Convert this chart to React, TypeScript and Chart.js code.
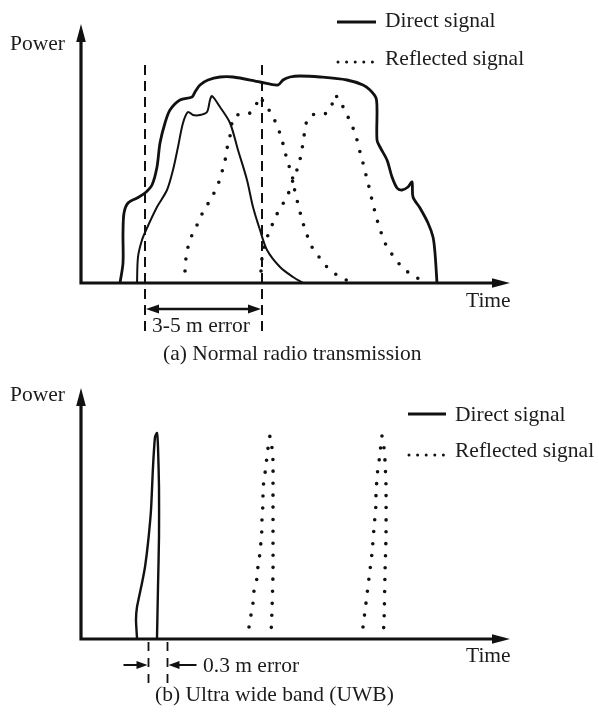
import React, { useEffect, useRef } from "react";
import { Chart, registerables } from "chart.js";

Chart.register(...registerables);

const FONT = '21.5px "Liberation Serif", "DejaVu Serif", serif';
const INK = "#111111";
const TEXT = "#1c1c1c";

type Pt = [number, number];

// ---------- (a) Normal radio transmission : [time, power] ----------
const envelopeA: Pt[] = [
  [39, 0], [42, 20], [42, 50], [43, 70], [47, 80], [56, 85], [64, 90], [71, 98],
  [76, 116], [79, 140], [84, 160], [89, 173], [99, 183], [111, 186], [114, 191],
  [119, 198], [127, 203], [139, 206], [152, 206], [179, 201], [197, 198], [202, 203],
  [209, 206], [219, 207], [239, 206], [266, 203], [282, 198], [289, 193], [295, 185],
  [296, 173], [296, 143], [299, 136], [306, 123], [311, 106], [316, 95], [321, 93],
  [327, 96], [331, 101], [332, 86], [339, 75], [347, 60], [352, 46], [354, 30], [356, 0],
];
const directA: Pt[] = [
  [56, 0], [57, 26], [61, 43], [66, 55], [76, 76], [86, 93], [92, 113], [97, 136],
  [102, 160], [107, 171], [112, 168], [119, 168], [126, 171], [129, 183], [131, 187],
  [139, 176], [149, 160], [157, 133], [166, 103], [172, 76], [179, 53], [186, 33],
  [199, 16], [212, 6], [222, 0],
];
const reflected1A: Pt[] = [
  [104, 12], [105, 25], [107, 36], [111, 48], [117, 60], [122, 71], [128, 81], [134, 92],
  [139, 104], [142, 115], [145, 127], [147, 140], [150, 151], [152, 165], [159, 169],
  [169, 170], [176, 180], [178, 186], [186, 176], [192, 166], [197, 155], [201, 143],
  [204, 131], [207, 120], [211, 108], [213, 96], [216, 83], [219, 71], [222, 60],
  [226, 48], [231, 36], [238, 26], [246, 16], [256, 8], [267, 2],
];
const reflected2A: Pt[] = [
  [180, 12], [181, 25], [183, 36], [187, 48], [192, 60], [197, 71], [203, 81], [208, 91],
  [212, 103], [217, 116], [220, 128], [222, 140], [224, 153], [227, 165], [234, 169],
  [246, 170], [252, 181], [254, 188], [261, 178], [267, 166], [272, 155], [276, 143],
  [279, 131], [282, 120], [285, 108], [288, 96], [291, 83], [294, 71], [297, 60],
  [301, 48], [306, 36], [313, 26], [321, 16], [331, 8], [342, 2],
];
const errorMarksA = [64, 181];
const errorLabelA = "3-5 m error";

// ---------- (b) Ultra wide band (UWB) : [time, power] ----------
const directB: Pt[] = [
  [56, 1], [55, 19], [56, 32], [61, 56], [64, 72], [67, 96], [70, 129], [72, 172],
  [74, 202], [76, 206], [77, 192], [78, 152], [78, 102], [77, 52], [76, 1],
];
const reflected1B: Pt[] = [
  [168, 12], [170, 24], [172, 36], [173, 48], [176, 61], [177, 73], [179, 86], [180, 98],
  [181, 111], [181, 122], [182, 135], [182, 147], [183, 160], [185, 172], [186, 184],
  [188, 197], [189, 203], [191, 191], [192, 178], [192, 153], [192, 103], [192, 66],
  [191, 29], [190, 4],
];
const reflected2B: Pt[] = [
  [282, 12], [285, 36], [288, 61], [291, 86], [293, 111], [295, 135], [295, 147],
  [296, 160], [297, 172], [299, 184], [300, 197], [301, 203], [303, 191], [304, 178],
  [305, 153], [305, 103], [304, 66], [303, 16], [302, 4],
];
const errorMarksB = [67.5, 86.5];
const errorLabelB = "0.3 m error";

const legendLabels = ["Direct signal", "Reflected signal"];
const axisLabels = ["Power", "Time"];
const captions = ["(a) Normal radio transmission", "(b) Ultra wide band (UWB)"];

const toXY = (pts: Pt[]) => pts.map(([x, y]) => ({ x, y }));

function head(ctx: CanvasRenderingContext2D, tx: number, ty: number, dx: number, dy: number, len: number, half: number) {
  const bx = tx - dx * len;
  const by = ty - dy * len;
  const px = -dy;
  const py = dx;
  ctx.beginPath();
  ctx.moveTo(tx, ty);
  ctx.lineTo(bx + px * half, by + py * half);
  ctx.lineTo(bx - px * half, by - py * half);
  ctx.closePath();
  ctx.fill();
}

function drawAxes(chart: any) {
  const ctx: CanvasRenderingContext2D = chart.ctx;
  const xs = chart.scales.x;
  const ys = chart.scales.y;
  const x0 = xs.getPixelForValue(0);
  const y0 = ys.getPixelForValue(0);
  const top = ys.getPixelForValue(ys.max);
  const right = xs.getPixelForValue(xs.max);
  ctx.save();
  ctx.strokeStyle = INK;
  ctx.fillStyle = INK;
  ctx.lineWidth = 3.2;
  ctx.lineCap = "butt";
  ctx.beginPath();
  ctx.moveTo(x0, y0 + 1.6);
  ctx.lineTo(x0, top + 12);
  ctx.moveTo(x0 - 1.6, y0);
  ctx.lineTo(right - 12, y0);
  ctx.stroke();
  head(ctx, x0, top, 0, -1, 18, 4.8);
  head(ctx, right, y0, 1, 0, 18, 4.8);
  ctx.restore();
  return { x0, y0, top, right, xs, ys };
}

function drawText(ctx: CanvasRenderingContext2D, s: string, x: number, y: number) {
  ctx.save();
  ctx.font = FONT;
  ctx.fillStyle = TEXT;
  ctx.textBaseline = "alphabetic";
  ctx.textAlign = "left";
  ctx.fillText(s, x, y);
  ctx.restore();
}

function drawLegend(ctx: CanvasRenderingContext2D, lx: number, ly1: number, ly2: number, tx: number, tb1: number, tb2: number, w: number) {
  ctx.save();
  ctx.strokeStyle = INK;
  ctx.lineWidth = 3;
  ctx.beginPath();
  ctx.moveTo(lx, ly1);
  ctx.lineTo(lx + w, ly1);
  ctx.stroke();
  ctx.lineWidth = 3;
  ctx.lineCap = "round";
  ctx.setLineDash([0, 8.6]);
  ctx.beginPath();
  ctx.moveTo(lx + 1, ly2);
  ctx.lineTo(lx + w - 1, ly2);
  ctx.stroke();
  ctx.restore();
  drawText(ctx, legendLabels[0], tx, tb1);
  drawText(ctx, legendLabels[1], tx, tb2);
}

const decorA = {
  id: "decorA",
  afterDraw(chart: any) {
    const ctx: CanvasRenderingContext2D = chart.ctx;
    const { y0, xs, ys } = drawAxes(chart);
    const m1 = xs.getPixelForValue(errorMarksA[0]);
    const m2 = xs.getPixelForValue(errorMarksA[1]);
    ctx.save();
    ctx.strokeStyle = INK;
    ctx.fillStyle = INK;
    ctx.lineWidth = 2;
    ctx.setLineDash([10, 6]);
    ctx.beginPath();
    const yTop = ys.getPixelForValue(218);
    [m1, m2].forEach((m) => {
      ctx.moveTo(m, yTop);
      ctx.lineTo(m, y0 + 49);
    });
    ctx.stroke();
    ctx.setLineDash([]);
    const ay = y0 + 26;
    ctx.lineWidth = 2.5;
    ctx.beginPath();
    ctx.moveTo(m1 + 8, ay);
    ctx.lineTo(m2 - 8, ay);
    ctx.stroke();
    head(ctx, m1 + 1, ay, -1, 0, 13, 4.5);
    head(ctx, m2 - 1, ay, 1, 0, 13, 4.5);
    ctx.restore();

    drawText(ctx, axisLabels[0], 10, 50);
    drawText(ctx, axisLabels[1], 466, 307);
    drawText(ctx, errorLabelA, 152, 332);
    drawText(ctx, captions[0], 163, 360);
    drawLegend(ctx, 337, 22, 62, 385, 27, 65, 39);
  },
};

const decorB = {
  id: "decorB",
  afterDraw(chart: any) {
    const ctx: CanvasRenderingContext2D = chart.ctx;
    const { y0, xs } = drawAxes(chart);
    const m1 = xs.getPixelForValue(errorMarksB[0]);
    const m2 = xs.getPixelForValue(errorMarksB[1]);
    ctx.save();
    ctx.strokeStyle = INK;
    ctx.fillStyle = INK;
    ctx.lineWidth = 1.8;
    ctx.setLineDash([9, 7]);
    ctx.beginPath();
    [m1, m2].forEach((m) => {
      ctx.moveTo(m, y0 + 3);
      ctx.lineTo(m, y0 + 45);
    });
    ctx.stroke();
    ctx.setLineDash([]);
    const ay = y0 + 26;
    ctx.lineWidth = 2.2;
    ctx.beginPath();
    ctx.moveTo(m1 - 25, ay);
    ctx.lineTo(m1 - 8, ay);
    ctx.moveTo(m2 + 29, ay);
    ctx.lineTo(m2 + 8, ay);
    ctx.stroke();
    head(ctx, m1 - 1, ay, 1, 0, 11, 4);
    head(ctx, m2 + 1, ay, -1, 0, 11, 4);
    ctx.restore();

    drawText(ctx, axisLabels[0], 10, 31);
    drawText(ctx, axisLabels[1], 466, 292);
    drawText(ctx, errorLabelB, 203, 302);
    drawText(ctx, captions[1], 155, 331);
    drawLegend(ctx, 408, 44, 85, 455, 51, 87, 38);
  },
};

function solid(data: Pt[], width: number, tension: number) {
  return {
    data: toXY(data),
    borderColor: INK,
    borderWidth: width,
    pointRadius: 0,
    fill: false,
    tension,
    borderJoinStyle: "round" as const,
    borderCapStyle: "round" as const,
  };
}

function dotted(data: Pt[], tension: number) {
  return {
    data: toXY(data),
    borderColor: INK,
    borderWidth: 3.6,
    pointRadius: 0,
    fill: false,
    tension,
    borderDash: [0, 12],
    borderCapStyle: "round" as const,
  };
}

function makeConfig(datasets: any[], xMax: number, yMax: number, padding: any, plugin: any) {
  return {
    type: "line" as const,
    data: { datasets },
    options: {
      responsive: false,
      animation: false as const,
      devicePixelRatio: 1,
      events: [] as any[],
      layout: { padding },
      plugins: { legend: { display: false }, tooltip: { enabled: false }, title: { display: false } },
      scales: {
        x: { type: "linear" as const, min: 0, max: xMax, display: false },
        y: { type: "linear" as const, min: 0, max: yMax, display: false },
      },
    },
    plugins: [plugin],
  };
}

export default function App() {
  const refA = useRef<HTMLCanvasElement>(null);
  const refB = useRef<HTMLCanvasElement>(null);

  useEffect(() => {
    const a = new Chart(
      refA.current as HTMLCanvasElement,
      makeConfig(
        [
          solid(envelopeA, 2.8, 0.3),
          solid(directA, 2.0, 0.3),
          dotted(reflected1A, 0.3),
          dotted(reflected2A, 0.3),
        ],
        429,
        259,
        { left: 81, right: 89, top: 24, bottom: 87 },
        decorA
      ) as any
    );
    const b = new Chart(
      refB.current as HTMLCanvasElement,
      makeConfig(
        [solid(directB, 2.4, 0.2), dotted(reflected1B, 0.2), dotted(reflected2B, 0.2)],
        429,
        251,
        { left: 81, right: 89, top: 18, bottom: 74 },
        decorB
      ) as any
    );
    return () => {
      a.destroy();
      b.destroy();
    };
  }, []);

  return (
    <div style={{ position: "absolute", left: 0, top: 0, width: 599, height: 713, background: "#fff" }}>
      <canvas ref={refA} width={599} height={370} style={{ display: "block", width: 599, height: 370 }} />
      <canvas ref={refB} width={599} height={343} style={{ display: "block", width: 599, height: 343 }} />
    </div>
  );
}
